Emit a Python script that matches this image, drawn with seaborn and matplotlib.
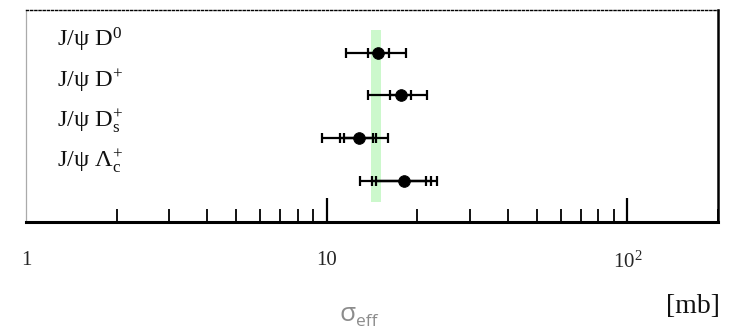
import numpy as np
import matplotlib
matplotlib.use('Agg')
import matplotlib.pyplot as plt
import matplotlib.transforms as mtransforms
import seaborn as sns

# effective cross section per channel [mb]
channels = [r'$\mathrm{J/\psi\ D^{0}}$', r'$\mathrm{J/\psi\ D^{{+}}}$',
            r'$\mathrm{J/\psi\ D_s^{{+}}}$', r'$\mathrm{J/\psi\ \Lambda_c^{{+}}}$']
sigma = [14.85, 17.6, 12.85, 18.1]
stat_lo = [13.75, 16.2, 11.4, 14.6]
stat_hi = [16.1, 19.0, 14.2, 21.4]
mid_lo = [np.nan, np.nan, 11.1, 14.1]
mid_hi = [np.nan, np.nan, 14.6, 22.2]
tot_lo = [11.55, 13.7, 9.65, 12.9]
tot_hi = [18.35, 21.5, 16.0, 23.2]
band = (14.0, 15.2)
tick_vals = [1, 10, 100]
tick_text = ['1', '10', r'$10^2$']

sns.set_theme(style='white')
plt.rcParams['font.family'] = ['Liberation Serif', 'DejaVu Serif']
plt.rcParams['mathtext.fontset'] = 'custom'
plt.rcParams['mathtext.rm'] = 'Liberation Serif'
plt.rcParams['mathtext.it'] = 'Liberation Serif'
plt.rcParams['mathtext.bf'] = 'Liberation Serif:bold'

fig = plt.figure(figsize=(7.36, 3.31), dpi=100)
ax = fig.add_axes([26/736, 1 - 222/331, 692/736, 212/331])

rows = np.arange(len(channels))
ax.axvspan(band[0], band[1], ymin=(222-202)/212, ymax=(222-30)/212,
           color='#ccf8cc', lw=0, zorder=0)

def bars(lo, hi):
    lo = np.array(lo); hi = np.array(hi); c = np.array(sigma)
    ok = ~np.isnan(lo)
    ax.errorbar(c[ok], rows[ok], xerr=[c[ok] - lo[ok], hi[ok] - c[ok]],
                fmt='none', ecolor='black', elinewidth=1.6, capsize=3.5,
                capthick=1.6, zorder=2)

bars(tot_lo, tot_hi)
bars(mid_lo, mid_hi)
bars(stat_lo, stat_hi)
sns.scatterplot(x=sigma, y=rows, ax=ax, color='black', s=70, marker='o',
                edgecolor='black', zorder=3, legend=False)

ax.set_xscale('log')
ax.set_xlim(1, 200)
ax.set_ylim(3.97, -1.0)
ax.set_yticks([])
ax.set_xticks(tick_vals)
ax.set_xticklabels(tick_text, fontsize=15)
ax.xaxis.set_minor_locator(matplotlib.ticker.LogLocator(base=10, subs=np.arange(2, 10)))
ax.xaxis.set_minor_formatter(matplotlib.ticker.NullFormatter())
ax.tick_params(axis='x', which='major', direction='in', length=17, width=1.6,
               pad=21, color='black', bottom=True, top=False)
ax.tick_params(axis='x', which='minor', direction='in', length=9.5, width=1.3,
               color='black', bottom=True, top=False)
ax.xaxis.get_major_ticks()[0].tick1line.set_visible(False)
ax.grid(False)

ax.spines['top'].set_linestyle((0, (1.5, 1.5)))
ax.spines['top'].set_linewidth(1.0)
ax.spines['top'].set_color('black')
ax.spines['left'].set_color('#aaaaaa')
ax.spines['left'].set_linewidth(0.9)
ax.spines['right'].set_color('black')
ax.spines['right'].set_linewidth(1.8)
ax.spines['bottom'].set_color('black')
ax.spines['bottom'].set_linewidth(2.2)

trans = mtransforms.blended_transform_factory(ax.transAxes, ax.transData)
for i, name in enumerate(channels):
    ax.text(0.045, i * 0.94 - 0.14, name, transform=trans, fontsize=17.5,
            va='baseline', ha='left', color='#111111')

fig.text(693/736, 1 - 313/331, '[mb]', fontsize=20, ha='center',
         va='baseline', color='#111111')
fig.text(348/736, 1 - 321/331, 'σ', family='Open Sans', fontsize=19,
         color='#8c8c8c', ha='center', va='baseline')
fig.text(356/736, 1 - 326/331, 'eff', family='Open Sans', fontsize=12.5,
         color='#8c8c8c', ha='left', va='baseline')

fig.savefig('out.png', dpi=100)
